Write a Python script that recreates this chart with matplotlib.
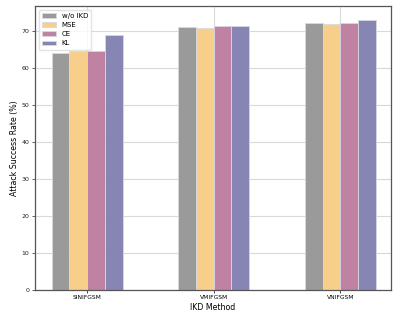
import matplotlib
matplotlib.use('Agg')
import numpy as np
import matplotlib.pyplot as plt

# data
methods = ['SINIFGSM', 'VMIFGSM', 'VNIFGSM']
labels = ['w/o IKD', 'MSE', 'CE', 'KL']
wo_ikd = [64.0, 71.0, 72.0]
mse = [64.5, 70.8, 71.8]
ce = [64.5, 71.4, 72.1]
kl = [68.9, 71.4, 72.9]
colors = ['#9a9a9a', '#f7cf8b', '#bf82a3', '#8785b3']

series = [wo_ikd, mse, ce, kl]
x = np.arange(len(methods))
width = 0.14

fig, ax = plt.subplots(figsize=(3.99, 3.19), dpi=100)
ax.set_axisbelow(True)
for i, (vals, lab, c) in enumerate(zip(series, labels, colors)):
    ax.bar(x + (i - 1.5) * width, vals, width, label=lab, color=c,
           edgecolor='#d8d8e0', linewidth=0.6)

ax.set_xticks(x)
ax.set_xticklabels(methods, fontsize=4.3)
ax.tick_params(axis='y', labelsize=4.5, length=2.5, width=0.5, colors='#222222', pad=1.5)
ax.tick_params(axis='x', length=2, width=0.5, pad=1.5)
ax.set_xlim(-0.41, 2.40)
ax.set_ylim(0, 76.7)
ax.set_xlabel('IKD Method', fontsize=5.7, labelpad=2)
ax.set_ylabel('Attack Success Rate (%)', fontsize=5.7, labelpad=2)
ax.grid(True, color='#d9d9d9', linewidth=0.8)
for s in ax.spines.values():
    s.set_color('#555555')
    s.set_linewidth(0.9)
ax.legend(loc='upper left', fontsize=5, framealpha=0.8, edgecolor='#dddddd',
          handlelength=2.0, borderpad=0.5, labelspacing=0.45)

plt.subplots_adjust(left=0.088, right=0.98, top=0.981, bottom=0.091)
plt.savefig('out.png', dpi=100)
